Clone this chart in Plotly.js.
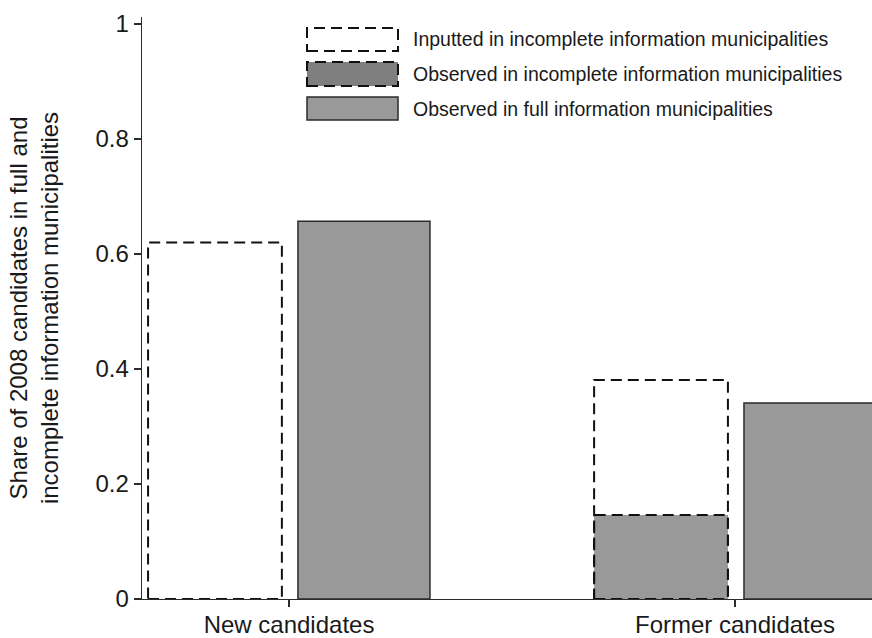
<!DOCTYPE html>
<html>
<head>
<meta charset="utf-8">
<script src="https://cdn.plot.ly/plotly-3.0.1.min.js"></script>
<style>html,body{margin:0;padding:0;background:#fff;}#chart{width:872px;height:638px;}</style>
</head>
<body>
<div id="chart"></div>
<script>
// ---- data ----
var categories = ['New candidates', 'Former candidates'];
var inputtedIncomplete = [0.62, 0.381];
var observedIncomplete = [0, 0.146];
var observedFull = [0.657, 0.341];
var legendLabels = [
  'Inputted in incomplete information municipalities',
  'Observed in incomplete information municipalities',
  'Observed in full information municipalities'
];
var yTickVals = [0, 0.2, 0.4, 0.6, 0.8, 1];
var yTickText = ['0', '0.2', '0.4', '0.6', '0.8', '1'];

// ---- layout constants ----
var W = 872, H = 638, ML = 142, MR = 0, MT = 17, MB = 39;
var PW = W - ML - MR, PH = H - MT - MB;
function px2x(p) { return (p - ML) / PW; }
function py2y(p) { return (H - MB - p) / PH; }

var FONT = 'Arial, "Liberation Sans", Helvetica, sans-serif';
var GRAY = '#999999';
var DARK = '#7f7f7f';
var LINE = '#2b2b2b';
var DASH = '11px,6px';

var leftOffset = -0.316, leftWidth = 0.300;
var rightOffset = 0.020, rightWidth = 0.296;

var traces = [
  {
    type: 'bar', name: legendLabels[0], x: categories, y: inputtedIncomplete,
    offset: leftOffset, width: leftWidth,
    marker: { color: '#ffffff', line: { width: 0 } },
    showlegend: false, hoverinfo: 'y'
  },
  {
    type: 'bar', name: legendLabels[1], x: categories, y: observedIncomplete,
    offset: leftOffset, width: leftWidth,
    marker: { color: GRAY, line: { width: 0 } },
    showlegend: false, hoverinfo: 'y'
  },
  {
    type: 'bar', name: legendLabels[2], x: categories, y: observedFull,
    offset: rightOffset, width: rightWidth,
    marker: { color: GRAY, line: { color: LINE, width: 1.5 } },
    showlegend: false, hoverinfo: 'y'
  }
];

var shapes = [];
function dashedOutline(values) {
  values.forEach(function (v, i) {
    if (v <= 0) return;
    shapes.push({
      type: 'rect', xref: 'x', yref: 'y', layer: 'above',
      x0: i + leftOffset, x1: i + leftOffset + leftWidth, y0: 0, y1: v,
      line: { color: '#111111', width: 2, dash: DASH }, fillcolor: 'rgba(0,0,0,0)'
    });
  });
}
dashedOutline(inputtedIncomplete);
dashedOutline(observedIncomplete);

// ---- custom legend ----
var annotations = [];
var legendRows = [
  { top: 28, bottom: 51, fill: '#ffffff', dash: DASH, lw: 2, lc: '#111111' },
  { top: 62, bottom: 86, fill: DARK, dash: DASH, lw: 2, lc: '#111111' },
  { top: 97, bottom: 120, fill: GRAY, dash: 'solid', lw: 1.5, lc: LINE }
];
legendRows.forEach(function (r, i) {
  shapes.push({
    type: 'rect', xref: 'paper', yref: 'paper', layer: 'above',
    x0: px2x(307), x1: px2x(398), y0: py2y(r.bottom), y1: py2y(r.top),
    fillcolor: r.fill, line: { color: r.lc, width: r.lw, dash: r.dash }
  });
  annotations.push({
    xref: 'paper', yref: 'paper', x: px2x(411), y: py2y((r.top + r.bottom) / 2),
    xanchor: 'left', yanchor: 'middle', showarrow: false,
    text: legendLabels[i], font: { family: FONT, size: 19.5, color: '#1a1a1a' }
  });
});

var layout = {
  width: W, height: H,
  margin: { l: ML, r: MR, t: MT, b: MB, pad: 0 },
  paper_bgcolor: '#ffffff', plot_bgcolor: '#ffffff',
  barmode: 'overlay',
  showlegend: false,
  font: { family: FONT, color: '#1a1a1a' },
  xaxis: {
    type: 'category', categoryorder: 'array', categoryarray: categories,
    range: [-0.3296, 1.307], showgrid: false, zeroline: false,
    showline: true, linecolor: LINE, linewidth: 1.3,
    ticks: 'outside', ticklen: 7, tickcolor: LINE, tickwidth: 1.3,
    ticklabelstandoff: -3,
    tickfont: { family: FONT, size: 24, color: '#1a1a1a' },
    fixedrange: true
  },
  yaxis: {
    range: [0, PH / 575], showgrid: false, zeroline: false,
    showline: true, linecolor: LINE, linewidth: 1.3,
    ticks: 'outside', ticklen: 7, tickcolor: LINE, tickwidth: 1.3,
    tickvals: yTickVals, ticktext: yTickText,
    tickfont: { family: FONT, size: 24, color: '#1a1a1a' },
    title: {
      text: 'Share of 2008 candidates in full and<br>incomplete information municipalities',
      font: { family: FONT, size: 24, color: '#1a1a1a' }, standoff: 30
    },
    fixedrange: true
  },
  shapes: shapes,
  annotations: annotations
};

Plotly.newPlot('chart', traces, layout, { displayModeBar: false, staticPlot: true });
</script>
</body>
</html>
